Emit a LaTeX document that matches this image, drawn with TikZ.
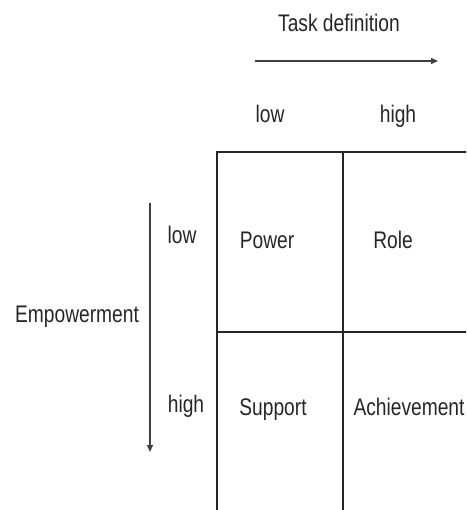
\documentclass[tikz,border=0pt]{standalone}
\usepackage{fontspec}
\setmainfont{Liberation Sans}
\usetikzlibrary{arrows.meta}
\tikzset{
  lbl/.style={font=\fontsize{24}{26}\selectfont, text=black!85, inner sep=0pt, xscale=0.8, transform shape, anchor=base},
  gridline/.style={line width=1.8pt, draw=black!85},
  axis/.style={line width=1.3pt, draw=black!75, -{Triangle[length=7pt,width=6pt]}}
}
\begin{document}
\begin{tikzpicture}[x=1pt,y=-1pt]
\useasboundingbox (0,0) rectangle (466,510);
\clip (0,0) rectangle (466,510);
% grid
\draw[gridline] (217,152) rectangle (470,514);
\draw[gridline] (343,152) -- (343,514);
\draw[gridline] (217,332) -- (470,332);
% top axis
\node[lbl] (task) at (339,32) {Task definition};
\coordinate (ta) at (255,61);
\coordinate (tb) at (438,61);
\draw[axis] (ta) -- (tb);
\node[lbl] (tlow) at (270,123) {low};
\node[lbl] (thigh) at (398,123) {high};
% left axis
\node[lbl] (emp) at (77,322) {Empowerment};
\coordinate (la) at (150,203);
\coordinate (lb) at (150,452);
\draw[axis] (la) -- (lb);
\node[lbl] (llow) at (182,243) {low};
\node[lbl] (lhigh) at (186,412) {high};
% cells
\node[lbl] (power) at (267,248) {Power};
\node[lbl] (role) at (393,248) {Role};
\node[lbl] (support) at (273,415) {Support};
\node[lbl] (ach) at (409,415) {Achievement};
\end{tikzpicture}
\end{document}
